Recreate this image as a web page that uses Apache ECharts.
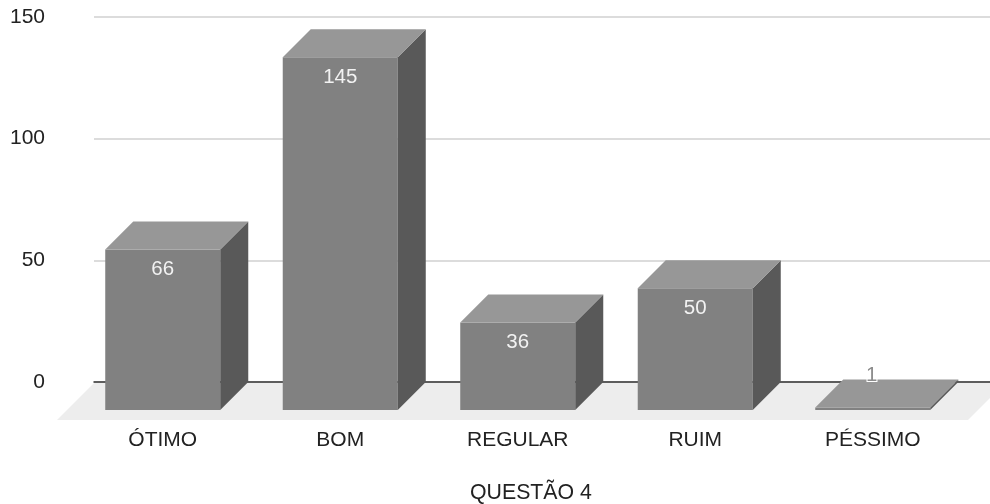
<!DOCTYPE html>
<html>
<head>
<meta charset="utf-8">
<style>html,body{margin:0;padding:0;background:#fff}#chart{width:990px;height:504px}</style>
<script src="https://cdn.jsdelivr.net/npm/echarts@6/dist/echarts.min.js"></script>
</head>
<body>
<div id="chart"></div>
<script>
// Survey answers for question 4, drawn as pseudo-3D columns
const categories = ['ÓTIMO', 'BOM', 'REGULAR', 'RUIM', 'PÉSSIMO'];
const answers = [66, 145, 36, 50, 1];
const axisTitle = 'QUESTÃO 4';
const axisMax = 150;
const axisStep = 50;

const DEPTH = 28;          // diagonal offset between a column's front and back faces
const BAR_SHARE = 0.648;   // column width as a share of its category band
const FLOOR_DEPTH = 37;
const FONT = '"Liberation Sans", Arial, sans-serif';
const TEXT_SIZE = 21;

function renderColumn(params, api) {
  const value = api.value(1);
  const [cx, backTop] = api.coord([api.value(0), value]);
  const backBase = api.coord([api.value(0), 0])[1];
  const w = api.size([1, 0])[0] * BAR_SHARE;
  const l = cx - w / 2, r = cx + w / 2;
  const top = backTop + DEPTH, base = backBase + DEPTH;
  const tall = base - top > 30;
  return {
    type: 'group',
    children: [
      { type: 'polygon', shape: { points: [[l, top], [r, top], [r, base], [l, base]] },
        style: { fill: '#818181' } },
      { type: 'polygon', shape: { points: [[r, top], [r + DEPTH, backTop], [r + DEPTH, backBase], [r, base]] },
        style: { fill: '#595959' } },
      { type: 'polygon', shape: { points: [[l, top], [l + DEPTH, backTop], [r + DEPTH, backTop], [r, top]] },
        style: { fill: '#979797' } },
      { type: 'text', style: {
          text: String(value), x: tall ? cx : cx - 1, y: tall ? top + 20 : backTop - 4,
          align: 'center', verticalAlign: 'middle', font: '20.5px ' + FONT,
          fill: tall ? '#f2f2f2' : '#8c8c8c',
          stroke: tall ? null : '#ffffff', lineWidth: tall ? 0 : 2
        } }
    ]
  };
}

function renderFloor(params) {
  const cs = params.coordSys;
  const y0 = cs.y + cs.height + 1;
  const x0 = cs.x, x1 = cs.x + cs.width + 15;
  return {
    type: 'polygon',
    shape: { points: [[x0, y0], [x1, y0], [x1 - FLOOR_DEPTH, y0 + FLOOR_DEPTH], [x0 - FLOOR_DEPTH, y0 + FLOOR_DEPTH]] },
    style: { fill: '#ededed' }
  };
}

const chart = echarts.init(document.getElementById('chart'), null, { renderer: 'canvas' });
chart.setOption({
  animation: false,
  backgroundColor: '#ffffff',
  title: {
    text: axisTitle, left: 465, top: 478,
    textStyle: { fontFamily: FONT, fontSize: 21.3, fontWeight: 'normal', color: '#222222' }
  },
  grid: [
    { left: 94, right: 0, top: 17, height: 365 },     // gridlines and value labels
    { left: 74, width: 887.5, top: 17, height: 365 } // columns, placed by their front face
  ],
  xAxis: [
    { type: 'category', gridIndex: 0, data: categories, axisLabel: { show: false },
      axisTick: { show: false }, splitLine: { show: false },
      axisLine: { show: true, lineStyle: { color: '#333333', width: 1.5 } } },
    { type: 'category', gridIndex: 1, data: categories,
      axisLine: { show: false }, axisTick: { show: false }, splitLine: { show: false },
      axisLabel: { margin: 48, fontFamily: FONT, fontSize: TEXT_SIZE, color: '#222222', interval: 0 } }
  ],
  yAxis: [
    { type: 'value', gridIndex: 0, min: 0, max: axisMax, interval: axisStep,
      axisLine: { show: false }, axisTick: { show: false },
      splitLine: { lineStyle: { color: '#d0d0d0', width: 1.5 } },
      axisLabel: { margin: 49, fontFamily: FONT, fontSize: TEXT_SIZE, color: '#222222' } },
    { type: 'value', gridIndex: 1, min: 0, max: axisMax, interval: axisStep, show: false }
  ],
  series: [
    { type: 'custom', xAxisIndex: 0, yAxisIndex: 0, z: 1, silent: true,
      data: [[0, 0]], renderItem: renderFloor },
    { type: 'custom', xAxisIndex: 1, yAxisIndex: 1, z: 3,
      encode: { x: 0, y: 1 },
      data: answers.map((v, i) => [i, v]), renderItem: renderColumn }
  ]
});
</script>
</body>
</html>
